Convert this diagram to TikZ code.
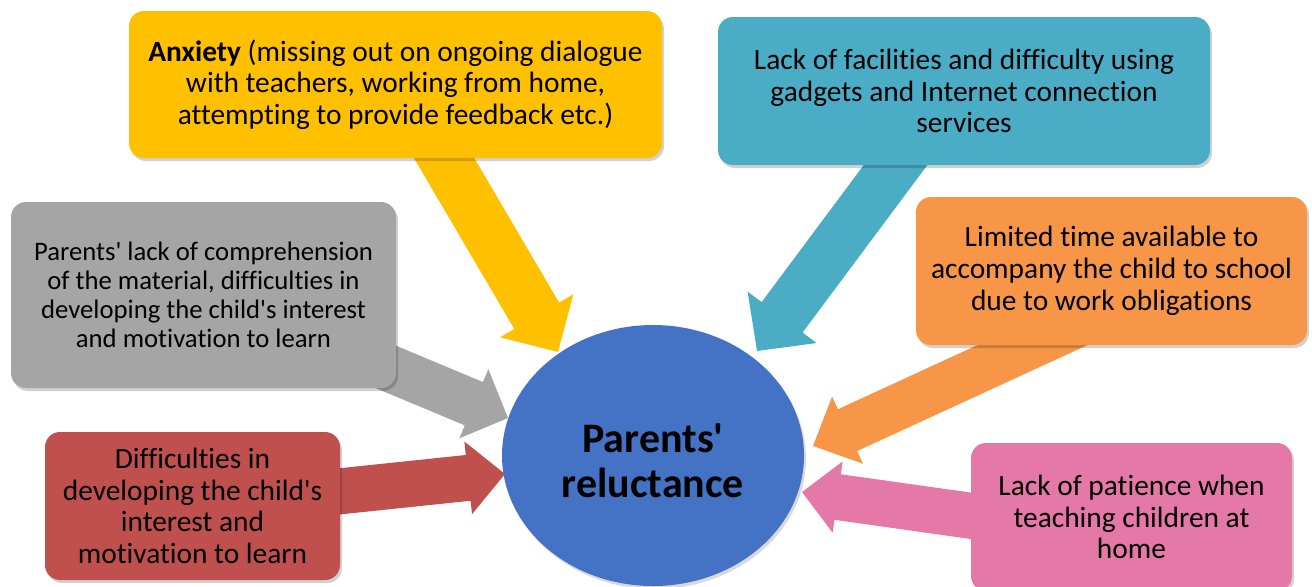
\documentclass[tikz,border=0pt]{standalone}
\usepackage{fontspec}
\setmainfont{Carlito}[Ligatures={TeXOff,NoCommon}]
\usetikzlibrary{calc,shapes.geometric,shadows}
\definecolor{cyellow}{HTML}{FFC000}
\definecolor{cteal}{HTML}{4BACC6}
\definecolor{cgray}{HTML}{A5A5A5}
\definecolor{corange}{HTML}{F79646}
\definecolor{cred}{HTML}{C0504D}
\definecolor{cpink}{HTML}{E479A8}
\definecolor{cblue}{HTML}{4472C4}
\newcommand\blkarrow[6]{%
  \coordinate (#2n) at ($(#3)!#6!(#2)$);
  \fill[#1] ($(#2)!#4!90:(#3)$) -- ($(#2n)!#4!90:(#3)$) -- ($(#2n)!#5!90:(#3)$)
    -- (#3) -- ($(#2n)!#5!-90:(#3)$) -- ($(#2n)!#4!-90:(#3)$) -- ($(#2)!#4!-90:(#3)$) -- cycle;
}
\tikzset{
  box/.style={rounded corners=7.5pt, inner sep=0pt, align=center,
    font=\fontsize{14.7}{15.85}\selectfont,
    drop shadow={shadow xshift=1pt,shadow yshift=-1.5pt,opacity=0.18,fill=black}},
  hub/.style={ellipse, fill=cblue, inner sep=0pt, align=center,
    font=\fontsize{21}{22.5}\selectfont\bfseries,
    drop shadow={shadow xshift=1pt,shadow yshift=-1.5pt,opacity=0.15,fill=black}}
}
\begin{document}
\begin{tikzpicture}[x=0.5pt,y=-0.5pt]
\useasboundingbox (0,0) rectangle (1312,586);
% arrow anchor coordinates
\coordinate (ty) at (410,100);  \coordinate (py) at (558,352);
\coordinate (tt) at (944,100);  \coordinate (pt) at (757,351);
\coordinate (tg) at (250,310);  \coordinate (pg) at (508,418);
\coordinate (tr) at (200,506);  \coordinate (pr) at (505,474);
\coordinate (to) at (1100,314); \coordinate (po) at (813,446);
\coordinate (tp) at (1100,534); \coordinate (pp) at (802,492);
% arrows
\blkarrow{cyellow}{ty}{py}{13pt}{21.25pt}{21pt}
\blkarrow{cteal}{tt}{pt}{12.75pt}{21.5pt}{21pt}
\blkarrow{cgray}{tg}{pg}{11.75pt}{18.75pt}{18.5pt}
\blkarrow{cred}{tr}{pr}{11.5pt}{18.25pt}{18.5pt}
\blkarrow{corange}{to}{po}{11.5pt}{18.5pt}{19pt}
\blkarrow{cpink}{tp}{pp}{11.5pt}{18pt}{18pt}
% hub
\node[hub, minimum width=151pt, minimum height=130.5pt] (hub) at (653,455.5) {};
\node[font=\fontsize{21}{22.5}\selectfont\bfseries, align=center, inner sep=0pt] (hubtext) at (653,460.5) {Parents'\\reluctance};
% boxes
\node[box, fill=cyellow, minimum width=266.5pt, minimum height=73.5pt] (anx) at (395.5,84.5)
  {\textbf{Anxiety} (missing out on ongoing dialogue\\with teachers, working from home,\\attempting to provide feedback etc.)};
\node[box, fill=cteal, minimum width=246pt, minimum height=74pt] (fac) at (964,91)
  {Lack of facilities and difficulty using\\gadgets and Internet connection\\services};
\node[box, fill=cgray, minimum width=192.5pt, minimum height=93pt, font=\fontsize{13.35}{14.4}\selectfont] (com) at (203.5,295)
  {Parents' lack of comprehension\\of the material, difficulties in\\developing the child's interest\\and motivation to learn};
\node[box, fill=corange, minimum width=195.5pt, minimum height=74pt] (tim) at (1111.5,271)
  {Limited time available to\\accompany the child to school\\due to work obligations};
\node[box, fill=cred, minimum width=147.5pt, minimum height=74pt] (dif) at (192.5,506)
  {Difficulties in\\developing the child's\\interest and\\motivation to learn};
\node[box, fill=cpink, minimum width=160.5pt, minimum height=74pt] (pat) at (1131.5,517)
  {Lack of patience when\\teaching children at\\home};
\end{tikzpicture}
\end{document}
